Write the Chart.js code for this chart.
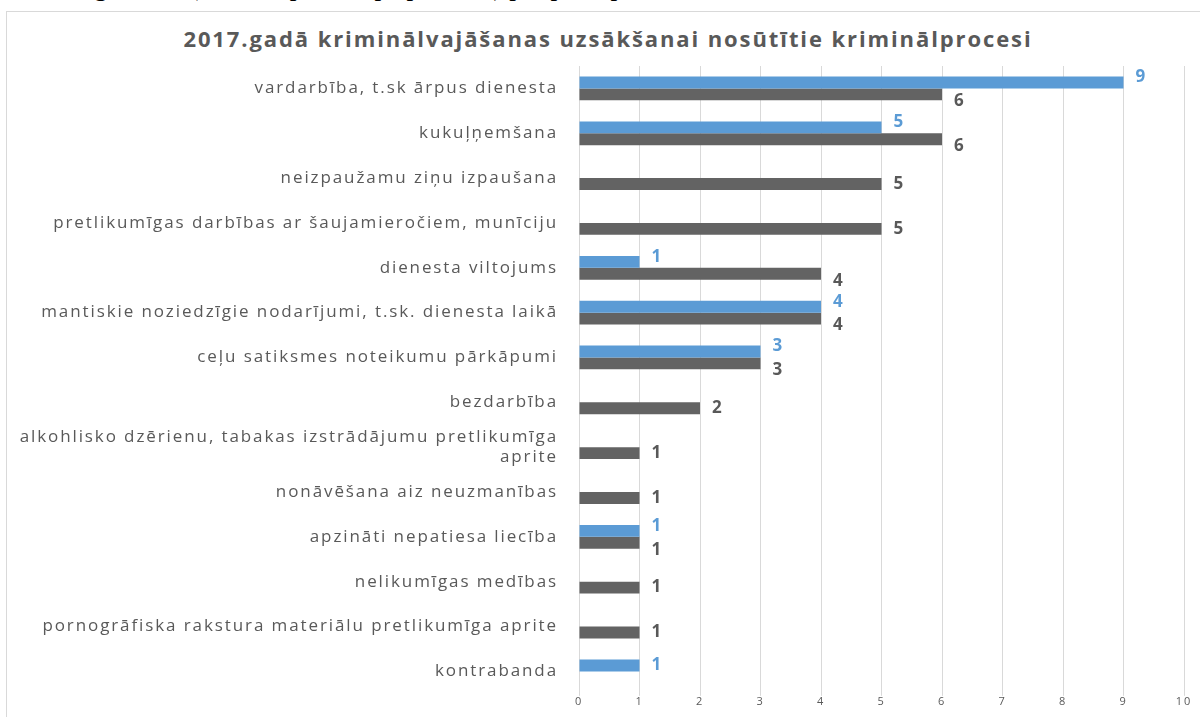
<!DOCTYPE html>
<html>
<head>
<meta charset="utf-8">
<script src="https://cdn.jsdelivr.net/npm/chart.js@4.4.0/dist/chart.umd.min.js"></script>
<style>
  html, body { margin: 0; padding: 0; background: #fff; overflow: hidden; }
  #wrap { position: relative; width: 1200px; height: 717px; overflow: hidden; }
  #caption {
    position: absolute; left: 55px; top: -29px; white-space: nowrap;
    font-family: "Liberation Serif", serif; font-size: 27px; color: #000;
  }
  #box {
    position: absolute; left: 6px; top: 11px; width: 1220px; height: 730px;
    border: 1px solid #d9d9d9; box-sizing: border-box;
  }
  #title {
    position: absolute; left: 6px; width: 1204px; top: 23px; text-align: center;
    font-family: "Open Sans", sans-serif; font-weight: bold; font-size: 22px;
    letter-spacing: 1.9px; color: #595959;
  }
  #chart { position: absolute; left: 0; top: 0; }
</style>
</head>
<body>
<div id="wrap">
  <div id="caption">Diagramma (kriminālprocesi pa pantiem) par pārkāpumiem</div>
  <div id="box"></div>
  <div id="title">2017.gadā kriminālvajāšanas uzsākšanai nosūtītie kriminālprocesi</div>
  <canvas id="chart" width="1200" height="717"></canvas>
</div>
<script>
// Kategorijas
var kategorijas = [
  'vardarbība, t.sk ārpus dienesta',
  'kukuļņemšana',
  'neizpaužamu ziņu izpaušana',
  'pretlikumīgas darbības ar šaujamieročiem, munīciju',
  'dienesta viltojums',
  'mantiskie noziedzīgie nodarījumi, t.sk. dienesta laikā',
  'ceļu satiksmes noteikumu pārkāpumi',
  'bezdarbība',
  ['alkohlisko dzērienu, tabakas izstrādājumu pretlikumīga', 'aprite'],
  'nonāvēšana aiz neuzmanības',
  'apzināti nepatiesa liecība',
  'nelikumīgas medības',
  'pornogrāfiska rakstura materiālu pretlikumīga aprite',
  'kontrabanda'
];

// Sērijas
var zilaSerija = [9, 5, null, null, 1, 4, 3, null, null, null, 1, null, null, 1];
var pelekaSerija = [6, 6, 5, 5, 4, 4, 3, 2, 1, 1, 1, 1, 1, null];

var asuSoli = [0, 1, 2, 3, 4, 5, 6, 7, 8, 9, 10];

var krasas = ['#5b9bd5', '#636363'];
var etiketuKrasas = ['#5b9bd5', '#595959'];

// Platāks burtu atstatums, lai atbilstu oriģinālam
var burtuAtstatums = {
    id: 'burtuAtstatums',
    beforeDraw: function(chart) {
        chart.ctx.letterSpacing = '1.9px';
    }
};

// Vērtību etiķetes pie stabiņiem
var vertibuEtiketes = {
    id: 'vertibuEtiketes',
    afterDatasetsDraw: function(chart) {
        var ctx = chart.ctx;
        ctx.save();
        ctx.font = 'bold 17px "Open Sans"';
        ctx.letterSpacing = '0px';
        ctx.textAlign = 'left';
        ctx.textBaseline = 'middle';
        chart.data.datasets.forEach(function(ds, i) {
            var meta = chart.getDatasetMeta(i);
            meta.data.forEach(function(bar, j) {
                var v = ds.data[j];
                if (v == null) return;
                var cits = chart.data.datasets[1 - i].data[j];
                var dy = 0;
                if (cits != null) dy = i === 0 ? -5 : 7;
                ctx.fillStyle = etiketuKrasas[i];
                ctx.fillText(String(v), bar.x + 12, bar.y + dy);
            });
        });
        ctx.restore();
    }
};

document.addEventListener('DOMContentLoaded', function() {
    var ctx = document.getElementById('chart').getContext('2d');
    new Chart(ctx, {
        type: 'bar',
        data: {
            labels: kategorijas,
            datasets: [{
                data: zilaSerija,
                backgroundColor: krasas[0],
                categoryPercentage: 0.53,
                barPercentage: 1
            }, {
                data: pelekaSerija,
                backgroundColor: krasas[1],
                categoryPercentage: 0.53,
                barPercentage: 1
            }]
        },
        options: {
            indexAxis: 'y',
            responsive: false,
            animation: false,
            layout: { padding: { top: 66, right: 16, left: 0, bottom: 0 } },
            plugins: {
                legend: { display: false },
                tooltip: { enabled: false }
            },
            scales: {
                x: {
                    min: 0,
                    max: 10,
                    afterBuildTicks: function(axis) {
                        axis.ticks = asuSoli.map(function(v) { return { value: v }; });
                    },
                    afterFit: function(axis) { axis.height = 14; },
                    grid: { color: '#d9d9d9', lineWidth: 1, drawTicks: true, tickLength: 2 },
                    border: { display: false },
                    ticks: {
                        color: '#595959',
                        padding: 1,
                        font: { family: 'Open Sans', size: 11, lineHeight: 1 }
                    }
                },
                y: {
                    afterFit: function(axis) { axis.width = 579; },
                    grid: { display: false },
                    border: { display: false },
                    ticks: {
                        color: '#595959',
                        padding: 13,
                        autoSkip: false,
                        font: { family: 'Open Sans', size: 17 }
                    }
                }
            }
        },
        plugins: [burtuAtstatums, vertibuEtiketes]
    });
});
</script>
</body>
</html>
